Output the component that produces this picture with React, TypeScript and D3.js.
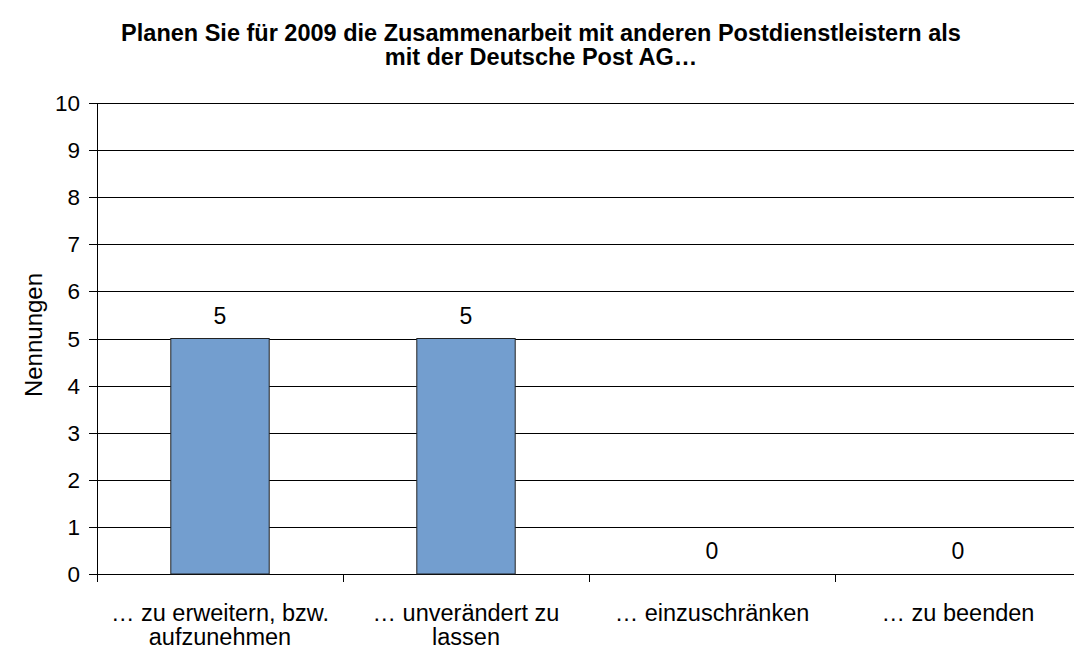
import React from "react";
import * as d3 from "d3";

const categories: string[][] = [
  ["… zu erweitern, bzw.", "aufzunehmen"],
  ["… unverändert zu", "lassen"],
  ["… einzuschränken"],
  ["… zu beenden"],
];
const values: number[] = [5, 5, 0, 0];
const yTicks: number[] = [0, 1, 2, 3, 4, 5, 6, 7, 8, 9, 10];
const titleLines: string[] = [
  "Planen Sie für 2009 die Zusammenarbeit mit anderen Postdienstleistern als",
  "mit der Deutsche Post AG…",
];
const yAxisTitle = "Nennungen";

export default function App() {
  const W = 1074;
  const H = 653;
  const left = 97;
  const right = 1081;
  const top = 103;
  const bottom = 574;
  const font = "Liberation Sans, Arial, sans-serif";

  const x = d3
    .scaleBand<number>()
    .domain(categories.map((_, i) => i))
    .range([left, right])
    .paddingInner(0.6)
    .paddingOuter(0.3);
  const step = (right - left) / categories.length;
  const y = d3.scaleLinear().domain([0, 10]).range([bottom, top]);

  return (
    <svg
      width={W}
      height={H}
      style={{ position: "absolute", left: 0, top: 0, background: "#fff" }}
      fontFamily={font}
    >
      <rect x={0} y={0} width={W} height={H} fill="#fff" />
      {titleLines.map((t, i) => (
        <text
          key={i}
          x={541}
          y={41 + i * 24}
          textAnchor="middle"
          fontSize={23.5}
          fontWeight="bold"
          fill="#000"
        >
          {t}
        </text>
      ))}
      {yTicks.map((t) => (
        <g key={t}>
          <line
            x1={left}
            x2={right}
            y1={Math.round(y(t)) + 0.5}
            y2={Math.round(y(t)) + 0.5}
            stroke="#000"
            strokeWidth={1}
          />
          <line
            x1={left - 8}
            x2={left}
            y1={Math.round(y(t)) + 0.5}
            y2={Math.round(y(t)) + 0.5}
            stroke="#000"
          />
          <text
            x={80}
            y={y(t) + 8}
            textAnchor="end"
            fontSize={22.5}
            fill="#000"
          >
            {t}
          </text>
        </g>
      ))}
      <line x1={left + 0.5} x2={left + 0.5} y1={top} y2={bottom + 1} stroke="#000" />
      {d3.range(categories.length + 1).map((i) => (
        <line
          key={i}
          x1={Math.round(left + i * step) + 0.5}
          x2={Math.round(left + i * step) + 0.5}
          y1={bottom}
          y2={bottom + 8}
          stroke="#000"
        />
      ))}
      {values.map((v, i) => (
        <g key={i}>
          {v > 0 && (
            <rect
              x={x(i)!}
              y={y(v)}
              width={x.bandwidth()}
              height={bottom - y(v)}
              fill="#739ECF"
              stroke="#222"
              strokeWidth={1}
            />
          )}
          <text
            x={x(i)! + x.bandwidth() / 2}
            y={y(v) - 15}
            textAnchor="middle"
            fontSize={23}
            fill="#000"
          >
            {v}
          </text>
        </g>
      ))}
      {categories.map((lines, i) => (
        <text
          key={i}
          x={left + step * (i + 0.5)}
          textAnchor="middle"
          fontSize={23.5}
          fill="#000"
        >
          {lines.map((l, j) => (
            <tspan key={j} x={left + step * (i + 0.5)} y={621 + j * 24}>
              {l}
            </tspan>
          ))}
        </text>
      ))}
      <text
        transform={`translate(42, 335) rotate(-90)`}
        textAnchor="middle"
        fontSize={24}
        fill="#000"
      >
        {yAxisTitle}
      </text>
    </svg>
  );
}
